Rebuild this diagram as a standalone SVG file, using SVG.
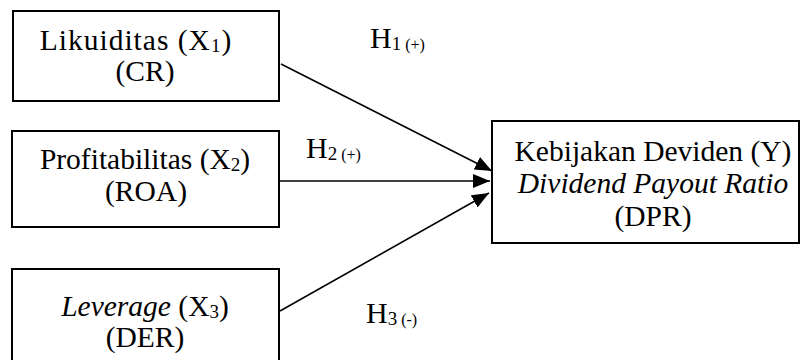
<svg xmlns="http://www.w3.org/2000/svg" width="800" height="360" viewBox="0 0 800 360">
<style>
.box{fill:#fff;stroke:#000;stroke-width:2}
.t{font-family:"Liberation Serif","Times New Roman",serif;font-size:29.5px;fill:#000;text-anchor:middle}
.h{font-family:"Liberation Serif","Times New Roman",serif;font-size:30px;fill:#000}
.sub{font-size:19px}
.sm{font-size:16px}
.con{stroke:#000;stroke-width:1.6;fill:none;marker-end:url(#arr)}
</style>
<defs>
<marker id="arr" markerUnits="userSpaceOnUse" markerWidth="18" markerHeight="14" refX="17" refY="7" orient="auto">
<path d="M0,0 L17,7 L0,14 Z" fill="#000"/>
</marker>
</defs>
<g id="connectors">
<line class="con" x1="281" y1="64" x2="492" y2="171"/>
<line class="con" x1="280" y1="181" x2="490" y2="181"/>
<line class="con" x1="280" y1="311" x2="489" y2="193"/>
</g>
<g id="x1">
<rect class="box" x="13" y="11" width="266" height="90"/>
<text class="t" x="136" y="50" letter-spacing="1">Likuiditas (X<tspan class="sub" dy="2">1</tspan><tspan dy="-2">)</tspan></text>
<text class="t" x="145" y="81">(CR)</text>
</g>
<g id="x2">
<rect class="box" x="12" y="131" width="267" height="96"/>
<text class="t" x="145" y="169">Profitabilitas (X<tspan class="sub" dy="2">2</tspan><tspan dy="-2">)</tspan></text>
<text class="t" x="146" y="201">(ROA)</text>
</g>
<g id="x3">
<rect class="box" x="12" y="269" width="267" height="100"/>
<text class="t" x="145" y="316"><tspan font-style="italic">Leverage</tspan> (X<tspan class="sub" dy="2">3</tspan><tspan dy="-2">)</tspan></text>
<text class="t" x="145" y="347">(DER)</text>
</g>
<g id="y">
<rect class="box" x="492" y="121" width="307" height="122"/>
<text class="t" x="653" y="161">Kebijakan Deviden (Y)</text>
<text class="t" x="653" y="193" font-style="italic">Dividend Payout Ratio</text>
<text class="t" x="653" y="226">(DPR)</text>
</g>
<g id="labels">
<text class="h" x="370" y="48">H<tspan class="sub" dy="2">1</tspan><tspan class="sm"> (+)</tspan></text>
<text class="h" x="306" y="158">H<tspan class="sub" dy="2">2</tspan><tspan class="sm"> (+)</tspan></text>
<text class="h" x="366" y="323">H<tspan class="sub" dy="2">3</tspan><tspan class="sm"> (-)</tspan></text>
</g>
</svg>
